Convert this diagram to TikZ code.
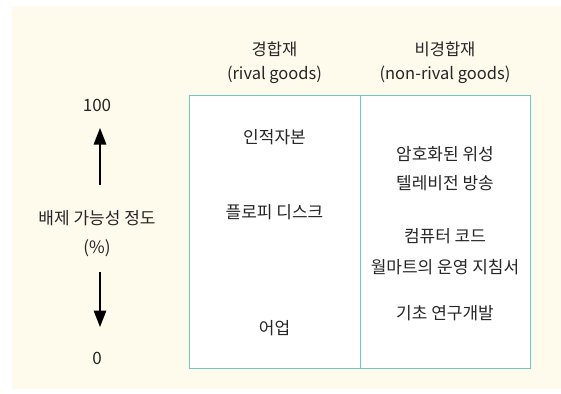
\documentclass[tikz,border=0pt]{standalone}
\usepackage{fontspec}
\setmainfont{Noto Sans CJK KR}
\usetikzlibrary{arrows.meta}
\definecolor{cream}{HTML}{FEFBED}
\definecolor{teal2}{HTML}{6DC8BF}
\definecolor{ink}{HTML}{262626}
\tikzset{
  lbl/.style={font=\fontsize{17}{19}\selectfont, text=ink, inner sep=0pt},
  hdr/.style={font=\fontsize{16.5}{19}\selectfont, text=ink, inner sep=0pt},
  axarrow/.style={draw=black, line width=1.6pt, -{Triangle[width=12.5pt,length=16.5pt]}},
  cell/.style={draw=teal2, line width=1pt, fill=white}
}
\begin{document}
\begin{tikzpicture}[x=1pt,y=-1pt]
\useasboundingbox (0,0) rectangle (561,393);
\fill[cream] (12,6) rectangle (561,389);
% table
\draw[cell] (189,96) rectangle (530,368);
\draw[teal2, line width=1pt] (360,96) -- (360,368);
% headers
\node[hdr] (h1) at (274.5,49) {경합재};
\node[hdr] (h1e) at (274.5,75) {(rival goods)};
\node[hdr] (h2) at (445,49) {비경합재};
\node[hdr] (h2e) at (445,75) {(non-rival goods)};
% left axis
\node[lbl] (top) at (97,105) {100};
\coordinate (upS) at (100,185);
\coordinate (upE) at (100,128);
\node[lbl] (ax) at (97,218) {배제 가능성 정도};
\node[lbl] (pc) at (97,248) {(\%)};
\coordinate (dnS) at (100,272);
\coordinate (dnE) at (100,327);
\node[lbl] (bot) at (97,358) {0};
\draw[axarrow] (upS) -- (upE);
\draw[axarrow] (dnS) -- (dnE);
% rival column
\node[lbl] (a1) at (274.5,137) {인적자본};
\node[lbl] (a2) at (274.5,212) {플로피 디스크};
\node[lbl] (a3) at (274.5,328) {어업};
% non-rival column
\node[lbl] (b1) at (445,154) {암호화된 위성};
\node[lbl] (b2) at (445,183) {텔레비전 방송};
\node[lbl] (b3) at (445,236) {컴퓨터 코드};
\node[lbl] (b4) at (445,267) {월마트의 운영 지침서};
\node[lbl] (b5) at (445,313) {기초 연구개발};
\end{tikzpicture}
\end{document}
